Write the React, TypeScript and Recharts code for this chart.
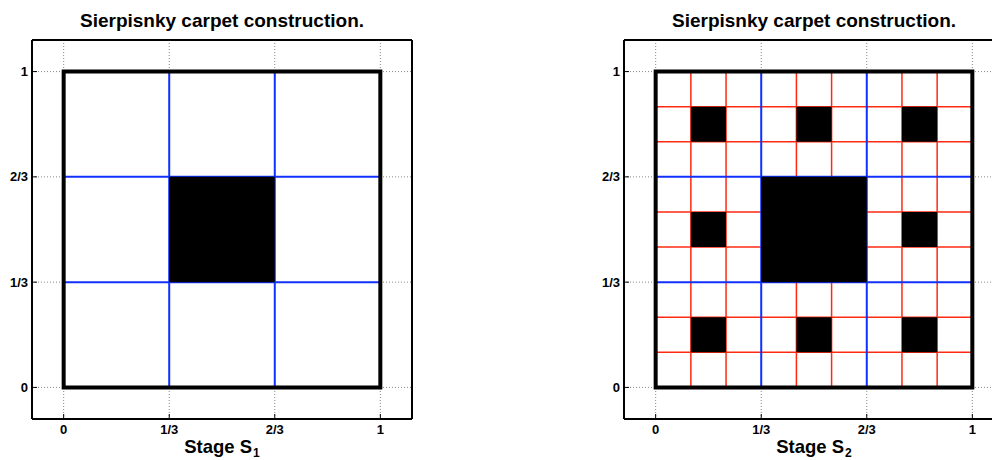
import React from 'react';
import { ComposedChart, XAxis, YAxis, CartesianGrid, ReferenceArea, ReferenceLine } from 'recharts';

// axis setup shared by both panels
const tickValues = [0, 1 / 3, 2 / 3, 1];
const tickLabels = ['0', '1/3', '2/3', '1'];
const axisDomain: [number, number] = [-0.1, 1.1];
const titleText = 'Sierpisnky carpet construction.';

// stage 1
const stage1Blue = [1 / 3, 2 / 3];
const stage1Red: number[] = [];
// holes as [x1, x2, y1, y2]
const stage1Holes = [[1 / 3, 2 / 3, 1 / 3, 2 / 3]];

// stage 2
const stage2Blue = [1 / 3, 2 / 3];
const stage2Red = [1 / 9, 2 / 9, 4 / 9, 5 / 9, 7 / 9, 8 / 9];
const stage2Holes = [
  [1 / 9, 2 / 9, 1 / 9, 2 / 9],
  [4 / 9, 5 / 9, 1 / 9, 2 / 9],
  [7 / 9, 8 / 9, 1 / 9, 2 / 9],
  [1 / 9, 2 / 9, 4 / 9, 5 / 9],
  [7 / 9, 8 / 9, 4 / 9, 5 / 9],
  [1 / 9, 2 / 9, 7 / 9, 8 / 9],
  [4 / 9, 5 / 9, 7 / 9, 8 / 9],
  [7 / 9, 8 / 9, 7 / 9, 8 / 9],
  [1 / 3, 2 / 3, 1 / 3, 2 / 3],
];

const FONT = '"Liberation Sans", Arial, Helvetica, sans-serif';
const BLUE = '#1030ff';
const RED = '#ff2a10';

interface PanelProps {
  stage: string;
  blue: number[];
  red: number[];
  holes: number[][];
}

const fmt = (v: number) => {
  const i = tickValues.findIndex(t => Math.abs(t - v) < 1e-6);
  return i >= 0 ? tickLabels[i] : '';
};

const Panel: React.FC<PanelProps> = ({ stage, blue, red, holes }) => {
  const tickStyle = { fontSize: 13, fontWeight: 'bold', fill: '#000', fontFamily: FONT };
  const axisLine = { stroke: '#000', strokeWidth: 2 };
  const tickLine = { stroke: '#000', strokeWidth: 1 };

  return (
    <ComposedChart width={460} height={460} margin={{ top: 39, right: 47, bottom: 0, left: 0 }}>
      <CartesianGrid stroke="#888" strokeDasharray="1 2" fill="none" />
      <XAxis
        type="number"
        dataKey="x"
        domain={axisDomain}
        ticks={tickValues}
        tickFormatter={fmt}
        allowDataOverflow
        interval={0}
        height={41}
        tickSize={-5}
        tickMargin={11}
        tick={tickStyle}
        axisLine={axisLine}
        tickLine={tickLine}
        label={(p: any) => {
          const vb = p.viewBox;
          return (
            <text x={vb.x + vb.width / 2} y={vb.y + 34} textAnchor="middle" fontSize={18.5} fontWeight="bold" fontFamily={FONT} fill="#000">
              Stage S<tspan dx={1} dy={4} fontSize={12}>{stage}</tspan>
            </text>
          );
        }}
      />
      <XAxis
        xAxisId="top"
        orientation="top"
        type="number"
        domain={axisDomain}
        ticks={tickValues}
        allowDataOverflow
        interval={0}
        height={1}
        tickSize={-5}
        tick={false}
        axisLine={axisLine}
        tickLine={tickLine}
        label={(p: any) => {
          const vb = p.viewBox;
          return (
            <text x={vb.x + vb.width / 2} y={vb.y - 12} textAnchor="middle" fontSize={19} fontWeight="bold" fontFamily={FONT} fill="#000">
              {titleText}
            </text>
          );
        }}
      />
      <YAxis
        type="number"
        domain={axisDomain}
        ticks={tickValues}
        tickFormatter={fmt}
        allowDataOverflow
        interval={0}
        width={32}
        tickSize={-5}
        tickMargin={9}
        tick={tickStyle}
        axisLine={axisLine}
        tickLine={tickLine}
      />
      <YAxis
        yAxisId="right"
        orientation="right"
        type="number"
        domain={axisDomain}
        ticks={tickValues}
        allowDataOverflow
        interval={0}
        width={1}
        tickSize={-5}
        tick={false}
        axisLine={axisLine}
        tickLine={tickLine}
      />

      {/* white carpet covers the grid */}
      <ReferenceArea x1={0} x2={1} y1={0} y2={1} fill="#fff" fillOpacity={1} stroke="none" zIndex={1} />

      {red.map(v => (
        <ReferenceLine key={'rx' + v} segment={[{ x: v, y: 0 }, { x: v, y: 1 }]} stroke={RED} strokeWidth={1.5} zIndex={2} />
      ))}
      {red.map(v => (
        <ReferenceLine key={'ry' + v} segment={[{ x: 0, y: v }, { x: 1, y: v }]} stroke={RED} strokeWidth={1.5} zIndex={2} />
      ))}
      {blue.map(v => (
        <ReferenceLine key={'bx' + v} segment={[{ x: v, y: 0 }, { x: v, y: 1 }]} stroke={BLUE} strokeWidth={2} zIndex={3} />
      ))}
      {blue.map(v => (
        <ReferenceLine key={'by' + v} segment={[{ x: 0, y: v }, { x: 1, y: v }]} stroke={BLUE} strokeWidth={2} zIndex={3} />
      ))}

      {holes.map((h, i) => (
        <ReferenceArea key={'h' + i} x1={h[0]} x2={h[1]} y1={h[2]} y2={h[3]} fill="#000" fillOpacity={1} stroke="none" zIndex={4} />
      ))}

      {/* outer border of the carpet */}
      <ReferenceArea x1={0} x2={1} y1={0} y2={1} fill="none" stroke="#000" strokeWidth={4} zIndex={5} />
    </ComposedChart>
  );
};

export default function App() {
  return (
    <div style={{ position: 'absolute', left: 0, top: 0, width: 992, height: 460, overflow: 'hidden', background: '#fff' }}>
      <div style={{ position: 'absolute', left: 0, top: 0 }}>
        <Panel stage="1" blue={stage1Blue} red={stage1Red} holes={stage1Holes} />
      </div>
      <div style={{ position: 'absolute', left: 592, top: 0 }}>
        <Panel stage="2" blue={stage2Blue} red={stage2Red} holes={stage2Holes} />
      </div>
    </div>
  );
}
